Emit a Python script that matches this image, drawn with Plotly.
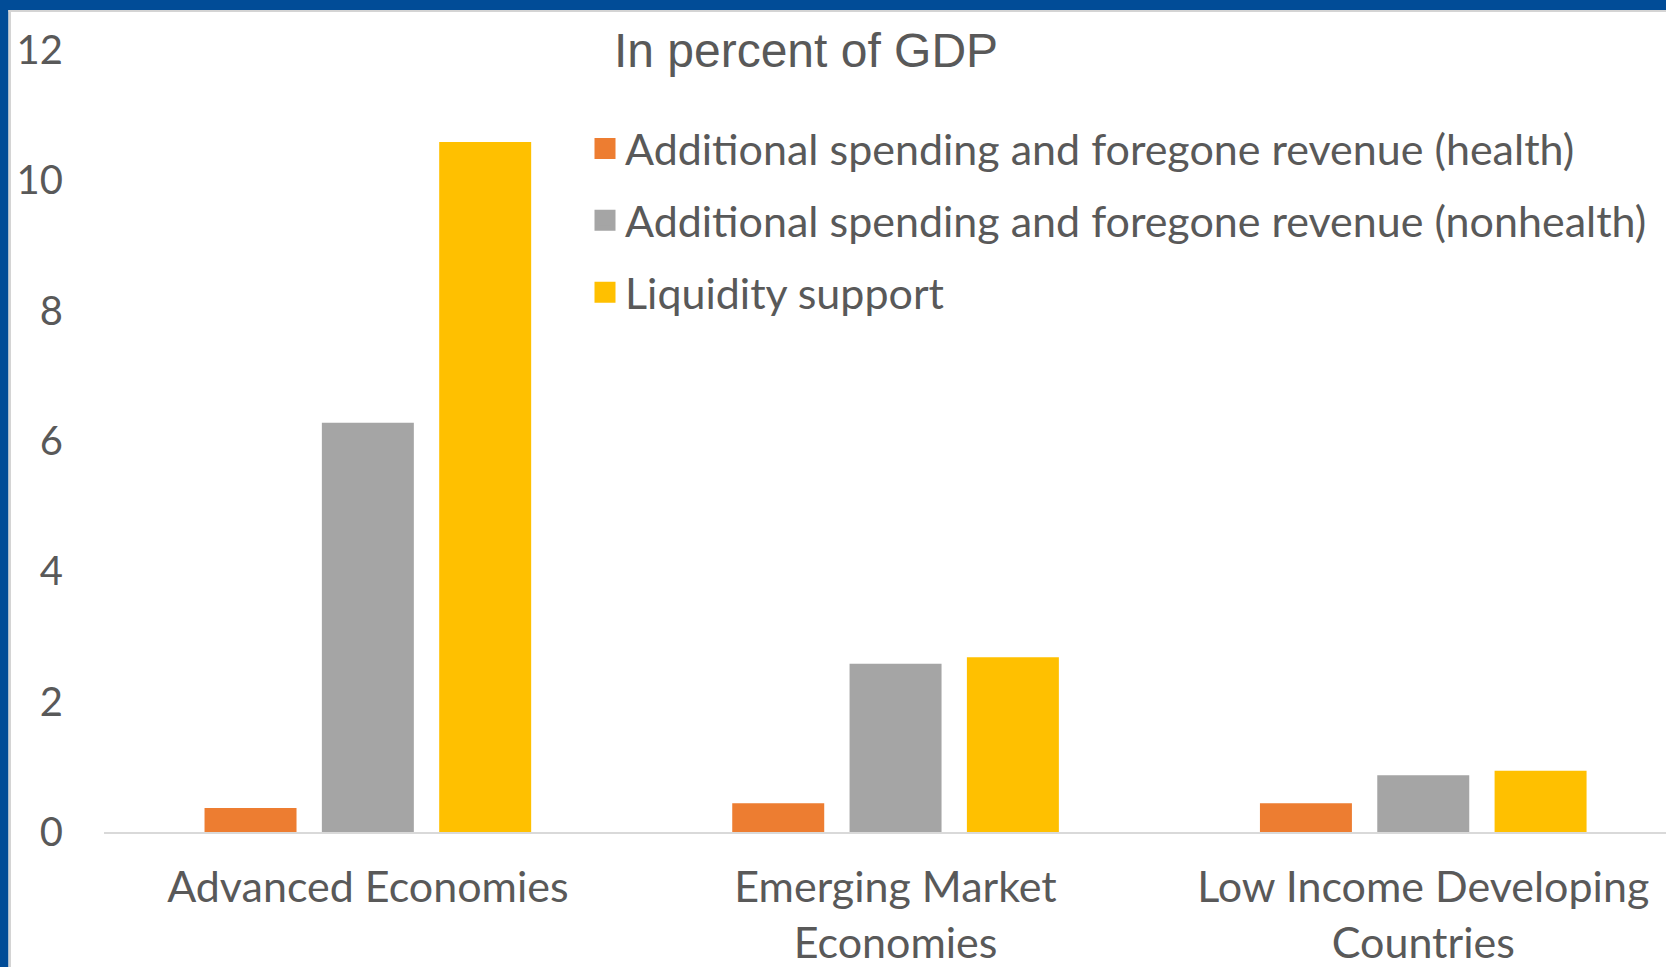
import plotly.graph_objects as go

# ---- data ----
categories = ["Advanced Economies", "Emerging Market<br>Economies", "Low Income Developing<br>Countries"]
series_names = [
    "Additional spending and foregone revenue (health)",
    "Additional spending and foregone revenue (nonhealth)",
    "Liquidity support",
]
health = [0.37, 0.44, 0.44]
nonhealth = [6.28, 2.58, 0.87]
liquidity = [10.59, 2.68, 0.94]
y_ticks = [0, 2, 4, 6, 8, 10, 12]
title_text = "In percent of GDP"

# ---- styles ----
colors = ["#ED7D31", "#A5A5A5", "#FFC000"]
W, H = 1666, 967
L, R, T, B = 104, 0, 50, 135
PW, PH = W - L - R, H - T - B
TXT = "#595959"
BLUE = "#014C97"

def px_x(px):
    return (px - L) / PW

def px_y(py):
    return (H - B - py) / PH

fig = go.Figure()
for name, vals, col in zip(series_names, [health, nonhealth, liquidity], colors):
    fig.add_trace(go.Bar(x=categories, y=vals, name=name, marker=dict(color=col, line=dict(width=0)),
                         showlegend=False, legendgroup=name))
for name, col in zip(series_names, colors):
    fig.add_trace(go.Scatter(x=[None], y=[None], mode="markers", name=name, legendgroup=name,
                             marker=dict(symbol="square", size=16, color=col,
                                         line=dict(color=col, width=5)),
                             hoverinfo="skip"))

shapes = [
    dict(type="rect", xref="paper", yref="paper", x0=px_x(0), x1=px_x(8.5), y0=px_y(H), y1=px_y(0),
         fillcolor=BLUE, line=dict(width=0), layer="above"),
    dict(type="rect", xref="paper", yref="paper", x0=px_x(8.5), x1=px_x(11), y0=px_y(H), y1=px_y(10),
         fillcolor="#D4D4D4", line=dict(width=0), layer="above"),
    dict(type="rect", xref="paper", yref="paper", x0=px_x(0), x1=px_x(W), y0=px_y(10), y1=px_y(0),
         fillcolor=BLUE, line=dict(width=0), layer="above"),
    dict(type="rect", xref="paper", yref="paper", x0=px_x(8.5), x1=px_x(W), y0=px_y(12), y1=px_y(10),
         fillcolor="#D4D4D4", line=dict(width=0), layer="above"),
]

fig.update_layout(
    width=W, height=H,
    margin=dict(l=L, r=R, t=T, b=B, pad=0),
    paper_bgcolor="white", plot_bgcolor="white",
    barmode="group", bargap=0.333, bargroupgap=0.216,
    font=dict(family="Lato", color=TXT),
    title=dict(text=title_text, x=806 / W, xanchor="center", xref="container",
               y=1 - 50 / H, yanchor="middle", yref="container",
               font=dict(family="Liberation Sans, Arial", size=48, color=TXT)),
    legend=dict(x=px_x(585), xanchor="left", y=px_y(114), yanchor="top",
                font=dict(family="Lato", size=43, color=TXT),
                bgcolor="rgba(0,0,0,0)", tracegroupgap=13, itemwidth=30),
    xaxis=dict(type="category", range=[-0.5, 2.46], showline=True, linecolor="#D9D9D9", linewidth=2,
               ticks="", showgrid=False, zeroline=False, tickfont=dict(family="Lato", size=43, color=TXT),
               ticklabelstandoff=16),
    yaxis=dict(range=[0, 12], tickvals=y_ticks, showline=False, showgrid=False, zeroline=False,
               ticks="", tickfont=dict(family="Lato", size=40, color=TXT), ticklabelstandoff=40),
    shapes=shapes,
)

fig.write_html("out.html")
